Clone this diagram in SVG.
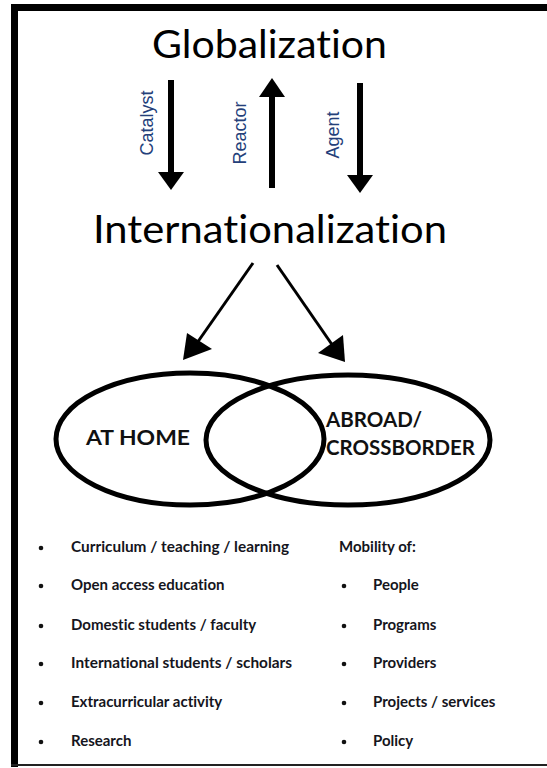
<svg xmlns="http://www.w3.org/2000/svg" width="547" height="768" viewBox="0 0 547 768">
<defs>
<style>
text{font-variant-ligatures:none}
.title{font-family:Lato,"Open Sans","Noto Sans",sans-serif;font-size:39px;fill:#000}
.lbl{font-family:"Liberation Sans",Arial,sans-serif;font-size:18px;fill:#24407a}
.venn{font-family:Lato,"Open Sans",sans-serif;font-weight:bold;font-size:21px;fill:#111}
.item{font-family:Lato,"Open Sans",sans-serif;font-weight:bold;font-size:15px;fill:#151520}
.bul{fill:#111}
.shaft{stroke:#000;stroke-width:6;fill:none}
.thin{stroke:#000;stroke-width:3;fill:none}
.ell{fill:none;stroke:#000;stroke-width:5}
</style>
</defs>
<rect width="547" height="768" fill="#fff"/>
<g id="frame">
<rect x="11" y="4" width="536" height="7" fill="#000"/>
<rect x="11" y="4" width="7" height="763" fill="#000"/>
<rect x="11" y="764" width="536" height="2" fill="#222"/>
</g>
<g id="globalization"><text class="title" x="152" y="58" textLength="235" lengthAdjust="spacingAndGlyphs">Globalization</text></g>
<g id="internationalization"><text class="title" x="93" y="243" font-size="40" textLength="354" lengthAdjust="spacingAndGlyphs">Internationalization</text></g>
<g id="connectors">
<line class="shaft" x1="171" y1="80" x2="171" y2="174"/>
<polygon points="158,172 184,172 171,190"/>
<line class="shaft" x1="272" y1="95" x2="272" y2="188"/>
<polygon points="259,97 285,97 272,78"/>
<line class="shaft" x1="360" y1="83" x2="360" y2="177"/>
<polygon points="347,175 373,175 360,193"/>
<line class="thin" x1="253" y1="263" x2="197" y2="343"/>
<polygon points="183,360 187,333 212,349"/>
<line class="thin" x1="277" y1="265" x2="333" y2="346"/>
<polygon points="345,362 343,335 318,353"/>
</g>
<g id="label-catalyst"><text class="lbl" transform="translate(153,123) rotate(-90)" text-anchor="middle">Catalyst</text></g>
<g id="label-reactor"><text class="lbl" transform="translate(246,133) rotate(-90)" text-anchor="middle">Reactor</text></g>
<g id="label-agent"><text class="lbl" transform="translate(339,135) rotate(-90)" text-anchor="middle">Agent</text></g>
<g id="at-home">
<ellipse class="ell" cx="190" cy="439" rx="134" ry="66"/>
<text class="venn" x="86" y="445" textLength="104" lengthAdjust="spacingAndGlyphs">AT HOME</text>
</g>
<g id="abroad">
<ellipse class="ell" cx="348" cy="440" rx="142" ry="65"/>
<text class="venn" x="326" y="427" textLength="96" lengthAdjust="spacingAndGlyphs">ABROAD/</text>
<text class="venn" x="326" y="455" textLength="149" lengthAdjust="spacingAndGlyphs">CROSSBORDER</text>
</g>
<g id="home-list">
<circle class="bul" cx="41" cy="548" r="2.3"/><text class="item" x="71" y="552" textLength="218" lengthAdjust="spacingAndGlyphs">Curriculum / teaching / learning</text>
<circle class="bul" cx="41" cy="586" r="2.3"/><text class="item" x="71" y="590">Open access education</text>
<circle class="bul" cx="41" cy="626" r="2.3"/><text class="item" x="71" y="630">Domestic students / faculty</text>
<circle class="bul" cx="41" cy="664" r="2.3"/><text class="item" x="71" y="668" textLength="221" lengthAdjust="spacingAndGlyphs">International students / scholars</text>
<circle class="bul" cx="41" cy="703" r="2.3"/><text class="item" x="71" y="707">Extracurricular activity</text>
<circle class="bul" cx="41" cy="742" r="2.3"/><text class="item" x="71" y="746">Research</text>
</g>
<g id="abroad-list">
<text class="item" x="339" y="552">Mobility of:</text>
<circle class="bul" cx="344" cy="586" r="2.3"/><text class="item" x="373" y="590">People</text>
<circle class="bul" cx="344" cy="626" r="2.3"/><text class="item" x="373" y="630">Programs</text>
<circle class="bul" cx="344" cy="664" r="2.3"/><text class="item" x="373" y="668">Providers</text>
<circle class="bul" cx="344" cy="703" r="2.3"/><text class="item" x="373" y="707">Projects / services</text>
<circle class="bul" cx="344" cy="742" r="2.3"/><text class="item" x="373" y="746">Policy</text>
</g>
</svg>
